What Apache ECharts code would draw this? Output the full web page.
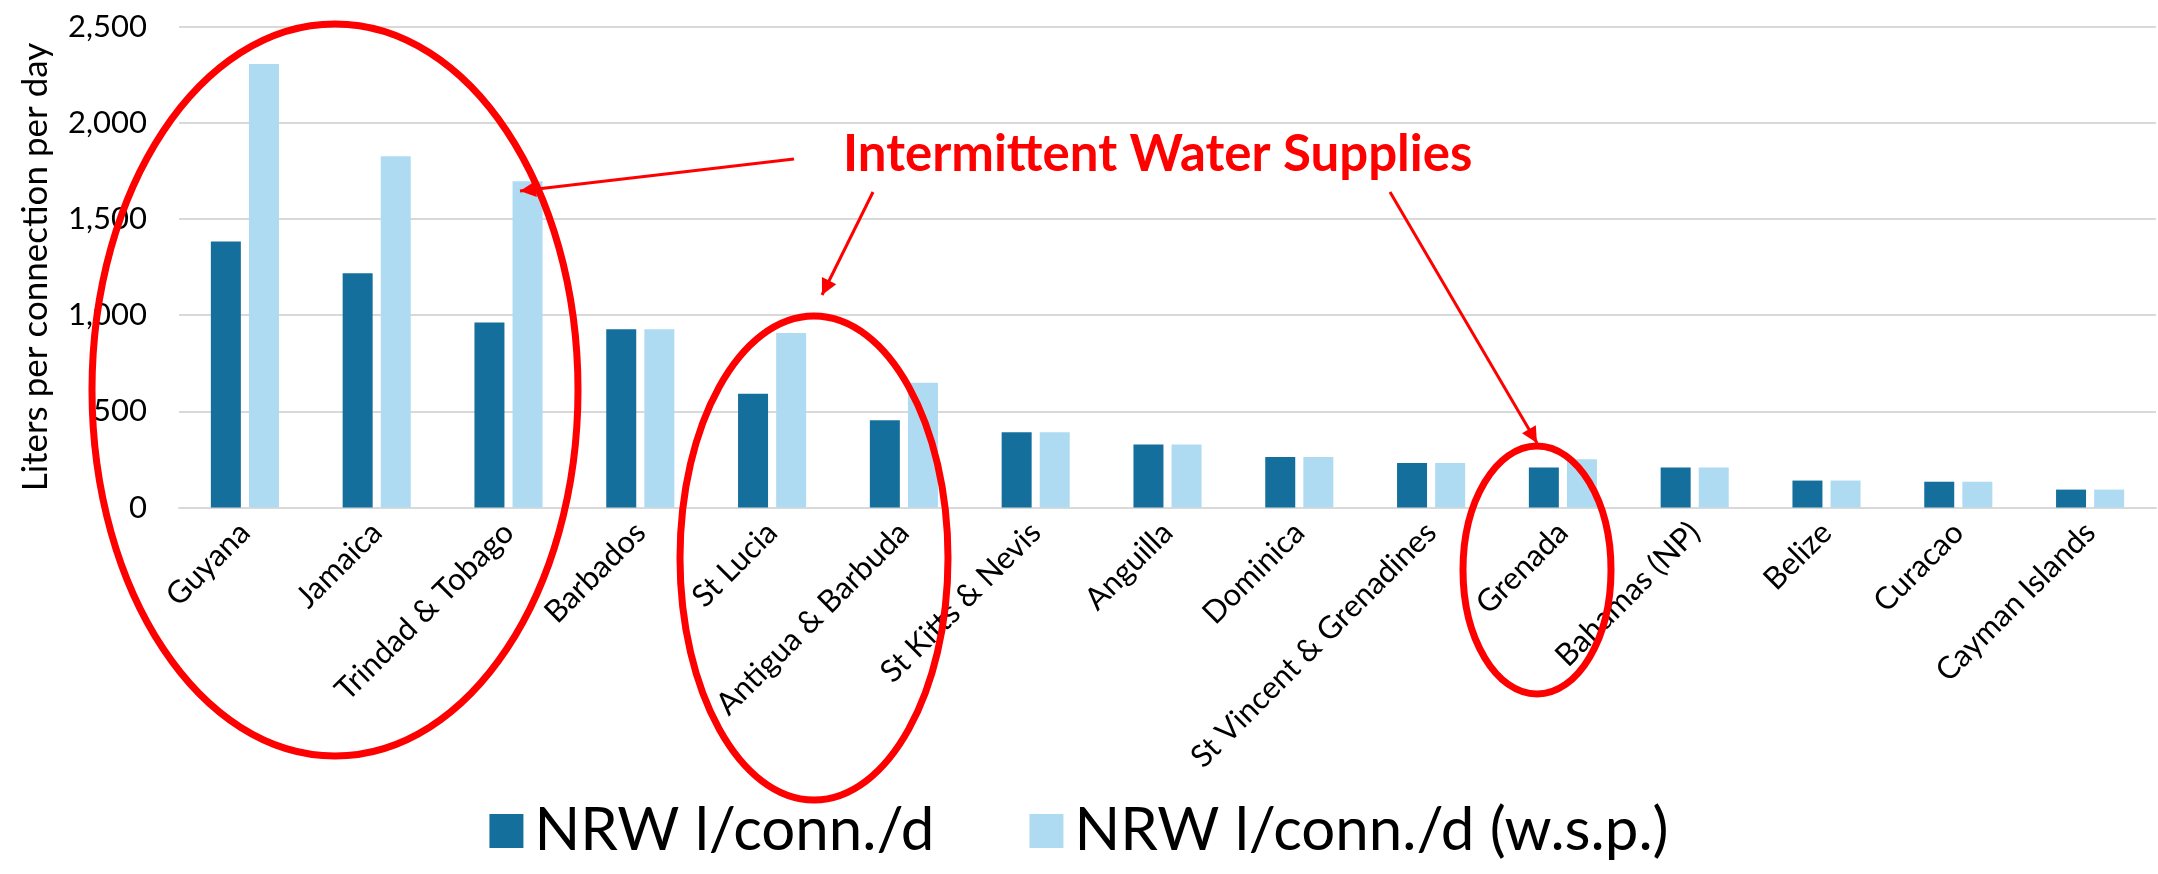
<!DOCTYPE html>
<html>
<head>
<meta charset="utf-8">
<script src="https://cdn.jsdelivr.net/npm/echarts@6/dist/echarts.min.js"></script>
<style>
html,body{margin:0;padding:0;background:#fff;}
#c{width:2158px;height:874px;}
</style>
</head>
<body>
<div id="c"></div>
<script>
// ---- data ----
const categories = ["Guyana","Jamaica","Trindad & Tobago","Barbados","St Lucia","Antigua & Barbuda","St Kitts & Nevis","Anguilla","Dominica","St Vincent & Grenadines","Grenada","Bahamas (NP)","Belize","Curacao","Cayman Islands"];
const nrw = [1382, 1218, 962, 926, 591, 453, 391, 328, 263, 231, 208, 208, 140, 134, 93];
const nrwWsp = [2305, 1826, 1696, 926, 907, 649, 391, 328, 263, 231, 251, 208, 140, 134, 93];
const seriesNames = ["NRW l/conn./d", "NRW l/conn./d (w.s.p.)"];
const yTicks = [0, 500, 1000, 1500, 2000, 2500];
const yAxisTitle = "Liters per connection per day";
const annotationText = "Intermittent Water Supplies";

// ---- annotation geometry (decoration, pixels) ----
const RED = '#ff0000';
const ellipses = [
  {cx: 335, cy: 390, rx: 243, ry: 366},
  {cx: 814, cy: 558, rx: 134, ry: 242},
  {cx: 1537, cy: 570, rx: 74, ry: 124}
];
const arrows = [
  {x1: 794, y1: 159, x2: 520, y2: 191},
  {x1: 873, y1: 192, x2: 822, y2: 295},
  {x1: 1390, y1: 192, x2: 1537, y2: 443}
];

function arrowHead(a, len, half) {
  const dx = a.x2 - a.x1, dy = a.y2 - a.y1;
  const L = Math.sqrt(dx*dx + dy*dy);
  const ux = dx / L, uy = dy / L;
  const bx = a.x2 - ux*len, by = a.y2 - uy*len;
  return [[a.x2, a.y2], [bx - uy*half, by + ux*half], [bx + uy*half, by - ux*half]];
}

const graphics = [];
ellipses.forEach(e => graphics.push({
  type: 'ellipse', shape: {cx: e.cx, cy: e.cy, rx: e.rx, ry: e.ry},
  style: {fill: 'none', stroke: RED, lineWidth: 7}, z: 100
}));
arrows.forEach(a => {
  graphics.push({type: 'line', shape: {x1: a.x1, y1: a.y1, x2: a.x2, y2: a.y2},
    style: {stroke: RED, lineWidth: 3}, z: 100});
  graphics.push({type: 'polygon', shape: {points: arrowHead(a, 16, 8)},
    style: {fill: RED}, z: 100});
});
graphics.push({type: 'text', x: 843, y: 155, z: 100,
  style: {text: annotationText, fill: RED, font: 'bold 51px Lato', textVerticalAlign: 'middle', textAlign: 'left'}});

const chart = echarts.init(document.getElementById('c'), null, {renderer: 'canvas'});
const FONT = 'Lato';
chart.setOption({
  animation: false,
  backgroundColor: '#ffffff',
  grid: {left: 179, right: 2, top: 26.5, bottom: 366.5, containLabel: false},
  legend: {
    data: seriesNames,
    bottom: 8, left: 'center',
    itemWidth: 34, itemHeight: 34, itemGap: 95,
    icon: 'rect',
    textStyle: {fontFamily: FONT, fontSize: 60, color: '#000', padding: [0,0,0,6]}
  },
  xAxis: {
    type: 'category', data: categories,
    axisLine: {lineStyle: {color: '#d9d9d9', width: 2}},
    axisTick: {show: false},
    axisLabel: {rotate: 45, interval: 0, margin: 20, fontFamily: FONT, fontSize: 31, color: '#000'}
  },
  yAxis: {
    type: 'value', min: 0, max: 2500, interval: 500,
    name: yAxisTitle, nameLocation: 'middle', nameGap: 126, nameRotate: 90,
    nameTextStyle: {fontFamily: FONT, fontSize: 35, color: '#000'},
    axisLine: {show: false}, axisTick: {show: false},
    splitLine: {lineStyle: {color: '#d9d9d9', width: 2}},
    axisLabel: {margin: 32, fontFamily: FONT, fontSize: 31, color: '#000',
      formatter: v => yTicks.includes(v) ? v.toLocaleString('en-US') : ''}
  },
  series: [
    {name: seriesNames[0], type: 'bar', data: nrw, barWidth: 30, barGap: '27%',
     itemStyle: {color: '#156f9c'}},
    {name: seriesNames[1], type: 'bar', data: nrwWsp, barWidth: 30, barGap: '27%',
     itemStyle: {color: '#afdbf2'}}
  ],
  graphic: graphics
});
</script>
</body>
</html>
